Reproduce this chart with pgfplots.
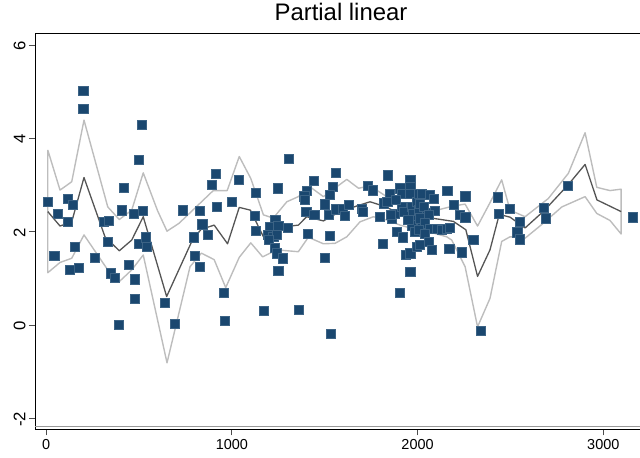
\documentclass[border=0pt]{standalone}
\usepackage{pgfplots}
\pgfplotsset{compat=1.18}
\usepackage{fontspec}
\setmainfont{Liberation Sans}

\definecolor{stnavy}{HTML}{1A476F}
\definecolor{fitgray}{HTML}{555555}
\definecolor{bandgray}{HTML}{BDBDBD}

\begin{document}
\begin{tikzpicture}
\begin{axis}[
  name=main,
  scale only axis,
  width=605bp, height=395.5bp,
  xmin=-59.8, xmax=3197.7,
  ymin=-2.239, ymax=6.235,
  axis x line*=box, axis y line*=left,
  axis line style={black, line width=1bp},
  xtick={0,1000,2000,3000}, xticklabels={0,1000,2000,3000},
  ytick={-2,0,2,4,6}, yticklabels={-2,0,2,4,6},
  xtick pos=bottom, ytick pos=left,
  tick align=outside, major tick length=6bp,
  tick style={black!70, line width=0.9bp},
  xticklabel style={font=\fontsize{14.5}{16}\selectfont},
  yticklabel style={font=\fontsize{16.8}{18}\selectfont, rotate=90, anchor=south, xshift=-1bp},
  title={Partial linear},
  title style={font=\fontsize{24}{27}\selectfont, at={(0.5,1)}, anchor=base, yshift=8bp, xshift=3.5bp},
  clip=false,
]
% confidence band outline: upper bound forward, lower bound back
\addplot[color=bandgray, line width=1.4bp, line join=round] coordinates {
 (9,3.75) (75,2.89) (138,3.07) (204,4.39) (332,2.53) (394,2.26) (461,2.46) (523,3.26)
 (600,2.45) (651,2.01) (716,2.18) (829,2.61) (900,2.88) (975,2.88) (1040,3.61)
 (1102,3.14) (1170,2.36) (1223,2.29) (1296,2.64) (1358,2.75) (1421,2.96) (1493,2.75)
 (1619,3.12) (1682,2.93) (1744,2.98) (1834,2.75) (1906,2.60) (1987,2.52) (2094,2.45)
 (2193,2.55) (2256,2.59) (2323,2.12) (2390,2.62) (2453,3.11) (2498,2.46) (2579,2.32)
 (2704,2.71) (2812,3.25) (2902,4.12) (2965,2.95) (3036,2.88) (3096,2.91)
 (3096,1.95) (3036,2.24) (2965,2.39) (2902,2.75) (2777,2.53) (2677,2.18) (2579,1.86)
 (2498,1.89) (2453,1.79) (2390,0.57) (2323,-0.04) (2256,1.25) (2184,1.82) (2157,1.89)
 (2076,1.98) (1987,2.05) (1906,2.14) (1834,2.25) (1762,2.32) (1690,2.21) (1619,1.89)
 (1556,1.75) (1493,1.74) (1412,1.88) (1358,1.57) (1242,1.61) (1166,1.46) (1102,1.76)
 (1040,1.45) (967,0.80) (905,1.40) (836,1.54) (775,1.25) (651,-0.81) (523,1.50)
 (461,1.18) (394,0.93) (332,1.18) (204,1.93) (138,1.43) (75,1.34) (9,1.12) (9,3.75)
};
% fitted curve
\addplot[color=fitgray, line width=1.3bp, line join=round] coordinates {
 (9,2.43) (75,2.12) (138,2.21) (204,3.16) (317,1.89) (394,1.59) (461,1.82) (523,2.32)
 (649,0.61) (790,1.84) (835,2.05) (905,2.14) (977,1.74) (1040,2.52) (1100,2.46)
 (1170,1.89) (1242,1.96) (1296,2.11) (1358,2.14) (1403,2.32) (1493,2.23) (1583,2.43)
 (1673,2.55) (1744,2.64) (1816,2.55) (1906,2.39) (1987,2.36) (2076,2.29) (2193,2.22)
 (2260,2.04) (2323,1.04) (2390,1.61) (2440,2.37) (2498,2.31) (2579,2.08) (2679,2.44)
 (2810,3.00) (2902,3.44) (2966,2.68) (3096,2.43)
};
% observations
\addplot[only marks, mark=square*, mark size=4.6bp,
  mark options={fill=stnavy, draw=stnavy!85!white, line width=0.4bp}] coordinates {
 (200,5.02) (200,4.64) (515,4.29) (500,3.55) (416,2.95) (9,2.65) (116,2.71) (143,2.58)
 (62,2.39) (116,2.21) (407,2.46) (473,2.39) (518,2.45) (308,2.21) (339,2.24) (332,1.78)
 (500,1.75) (538,1.88) (542,1.68) (156,1.67) (44,1.49) (260,1.44) (127,1.19) (176,1.22)
 (446,1.30) (349,1.11) (371,1.02) (479,0.98) (475,0.56) (393,0.00)
 (735,2.46) (825,2.45) (840,2.16) (915,3.24) (892,3.01) (1039,3.12) (920,2.53) (1001,2.65)
 (795,1.88) (868,1.94) (802,1.48) (829,1.25) (955,0.69) (637,0.48) (692,0.02) (960,0.09)
 (1308,3.56) (1559,3.27) (1127,2.84) (1245,2.93) (1439,3.09) (1403,2.87) (1390,2.76)
 (1394,2.68) (1541,2.96) (1525,2.79) (1502,2.59) (1400,2.43) (1444,2.37) (1520,2.36)
 (1559,2.48) (1595,2.50) (1631,2.57) (1606,2.34) (1121,2.34) (1127,2.02) (1233,2.25)
 (1206,2.11) (1250,2.12) (1301,2.09) (1193,1.93) (1223,1.89) (1242,1.93) (1200,1.82)
 (1229,1.66) (1242,1.54) (1272,1.43) (1250,1.16) (1407,1.96) (1525,1.91) (1498,1.44)
 (1170,0.31) (1362,0.32) (1532,-0.19)
 (1839,3.21) (1730,2.98) (1759,2.89) (1700,2.50) (1705,2.43) (1848,2.82) (1906,2.93)
 (1915,2.82) (1960,3.11) (1960,2.96) (1960,2.82) (1816,2.61) (1837,2.64) (1798,2.32)
 (1861,2.29) (1879,2.38) (1915,2.53) (1924,2.43) (1888,2.00) (1920,1.88) (1813,1.74)
 (1938,1.50) (1960,1.54) (1960,1.14) (1902,0.70) (1969,2.53) (1977,2.39) (1987,2.25)
 (1969,2.14) (1996,2.64) (2004,2.46) (1996,1.68) (2004,2.82) (1884,2.68) (1855,2.36)
 (2031,2.30) (1950,2.25) (2022,2.10) (1985,2.00) (2050,2.40)
 (2160,2.88) (2256,2.76) (2022,2.82) (2067,2.79) (2085,2.71) (2193,2.57) (2229,2.36)
 (2256,2.31) (2094,2.45) (2013,2.60) (2031,2.53) (2058,2.36) (2013,2.29) (2040,2.18)
 (2067,2.07) (2103,2.07) (2130,2.05) (2157,2.07) (2175,2.09) (2004,2.04) (2040,1.96)
 (2013,1.72) (2058,1.78) (2076,1.61) (2170,1.64) (2238,1.56) (2300,1.82) (2340,-0.12)
 (2430,2.74) (2439,2.39) (2497,2.49) (2550,2.21) (2537,1.99) (2550,1.84) (2681,2.52)
 (2688,2.29) (2809,2.98) (3160,2.31)
};
% inner frame line just above the x axis
\draw[black!40, line width=0.9bp] ([yshift=2.8bp]rel axis cs:0,0) -- ([yshift=2.8bp]rel axis cs:1,0);
\end{axis}
\pgfresetboundingbox
\useasboundingbox ([xshift=-35bp,yshift=-28.5bp]main.south west) rectangle ([yshift=34bp]main.north east);
\end{tikzpicture}
\end{document}
